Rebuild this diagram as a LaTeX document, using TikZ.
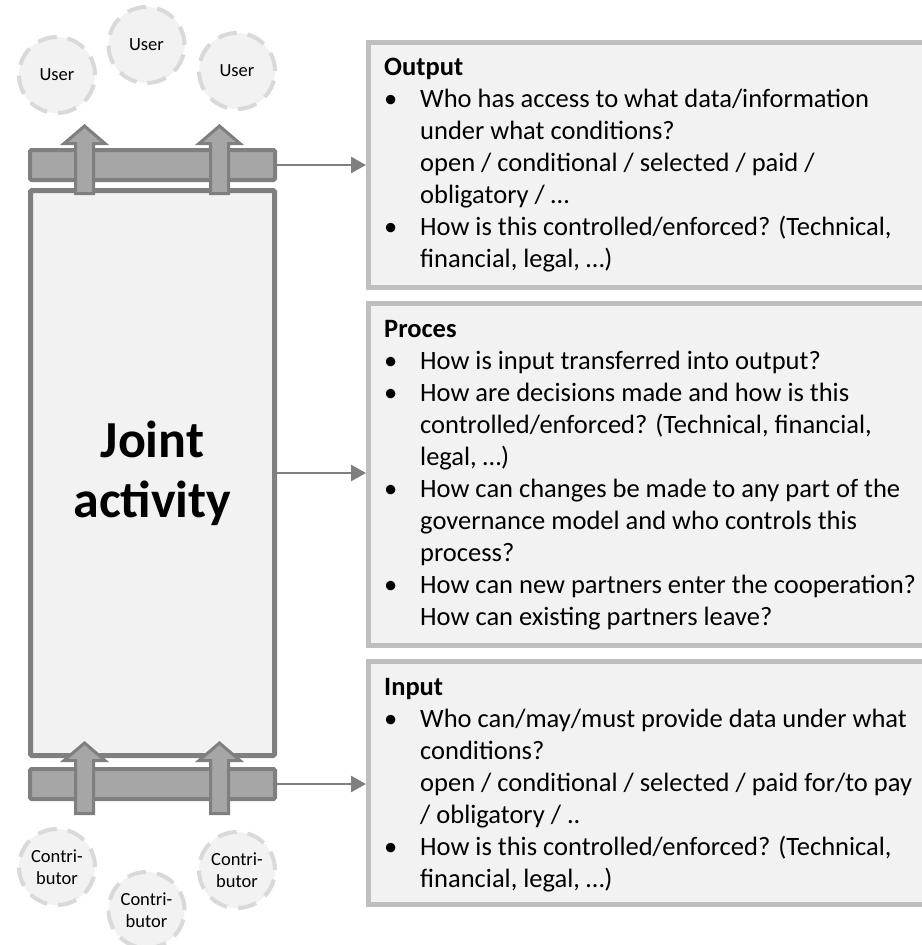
\documentclass[tikz,border=0pt]{standalone}
\usepackage{fontspec}
\setmainfont{Carlito}
\usepackage{tikz}
\usetikzlibrary{arrows.meta}

\definecolor{boxfill}{HTML}{F2F2F2}
\definecolor{boxline}{HTML}{BFBFBF}
\definecolor{darkline}{HTML}{7F7F7F}
\definecolor{barfill}{HTML}{A6A6A6}
\definecolor{ringline}{HTML}{D9D9D9}
\newcommand{\bul}{\makebox[36pt][l]{\textbullet}}
\newcommand{\ind}{\hspace*{36pt}}

\begin{document}
\begin{tikzpicture}[x=1pt, y=-1pt,
    infobox/.style={draw=boxline, line width=5pt, fill=boxfill, rectangle, minimum width=589pt, inner sep=0pt},
    infotext/.style={anchor=base west, align=left, inner sep=0pt, font=\fontsize{26.5}{32}\selectfont},
    bar/.style={draw=darkline, line width=4pt, fill=barfill, rectangle, rounded corners=1.5pt, minimum width=245pt, minimum height=30pt, inner sep=0pt},
    flow/.style={draw=darkline, line width=3pt, fill=barfill, line join=miter},
    party/.style={circle, draw=ringline, line width=4pt, fill=boxfill, dash pattern=on 19pt off 11pt, minimum size=76pt, inner sep=0pt, align=center, font=\fontsize{18.5}{22}\selectfont},
    link/.style={draw=darkline, line width=2.5pt, -{Triangle[length=15pt, width=16pt]}}]
    \useasboundingbox (0, 0) rectangle (921, 945);

    \node[infobox, minimum height=245pt] at (663, 165) (outbox) {};
    \node[infobox, minimum height=342pt] at (663, 474.5) (procbox) {};
    \node[infobox, minimum height=243pt] at (663, 783) (inbox) {};

    % text nodes are placed at the baseline of their last line
    \node[infotext] at (384, 267) (outtext) {\textbf{Output}\\
        \bul Who has access to what data/information\\
        \ind under what conditions?\\
        \ind open / conditional / selected / paid /\\
        \ind obligatory / …\\
        \bul How is this controlled/enforced? (Technical,\\
        \ind financial, legal, …)};
    \node[infotext] at (384, 625) (proctext) {\textbf{Proces}\\
        \bul How is input transferred into output?\\
        \bul How are decisions made and how is this\\
        \ind controlled/enforced? (Technical, financial,\\
        \ind legal, …)\\
        \bul How can changes be made to any part of the\\
        \ind governance model and who controls this\\
        \ind process?\\
        \bul How can new partners enter the cooperation?\\
        \ind How can existing partners leave?};
    \node[infotext] at (384, 887) (intext) {\textbf{Input}\\
        \bul Who can/may/must provide data under what\\
        \ind conditions?\\
        \ind open / conditional / selected / paid for/to pay\\
        \ind / obligatory / ..\\
        \bul How is this controlled/enforced? (Technical,\\
        \ind financial, legal, …)};

    \node[bar] at (152.5, 165) (topbar) {};
    \node[rectangle, draw=darkline, line width=5pt, fill=boxfill, rounded corners=1.5pt, minimum width=244pt, minimum height=565pt, align=center, font=\fontsize{52}{60}\selectfont\bfseries] at (152.5, 473) (joint) {Joint\\activity};
    \node[bar] at (152.5, 784) (botbar) {};

    % block arrows
    \draw[flow] (75.5, 193.5) -- (75.5, 143.5) -- (64, 143.5) -- (84.5, 126) -- (105, 143.5) -- (93.5, 143.5) -- (93.5, 193.5) -- cycle;
    \draw[flow] (210.5, 193.5) -- (210.5, 143.5) -- (199, 143.5) -- (219.5, 126) -- (240, 143.5) -- (228.5, 143.5) -- (228.5, 193.5) -- cycle;
    \draw[flow] (75.5, 813.5) -- (75.5, 760.5) -- (64, 760.5) -- (84.5, 743) -- (105, 760.5) -- (93.5, 760.5) -- (93.5, 813.5) -- cycle;
    \draw[flow] (210.5, 813.5) -- (210.5, 760.5) -- (199, 760.5) -- (219.5, 743) -- (240, 760.5) -- (228.5, 760.5) -- (228.5, 813.5) -- cycle;

    \draw[link] (topbar.east) -- (topbar.east -| outbox.west);
    \draw[link] (joint.east) -- (joint.east -| procbox.west);
    \draw[link] (botbar.east) -- (botbar.east -| inbox.west);

    \node[party] at (57, 75) (user1) {User};
    \node[party] at (146.5, 45) (user2) {User};
    \node[party] at (237, 71) (user3) {User};
    \node[party] at (57, 867) (contrib1) {Contri-\\butor};
    \node[party] at (146.5, 910) (contrib2) {Contri-\\butor};
    \node[party] at (237, 870) (contrib3) {Contri-\\butor};
\end{tikzpicture}
\end{document}
